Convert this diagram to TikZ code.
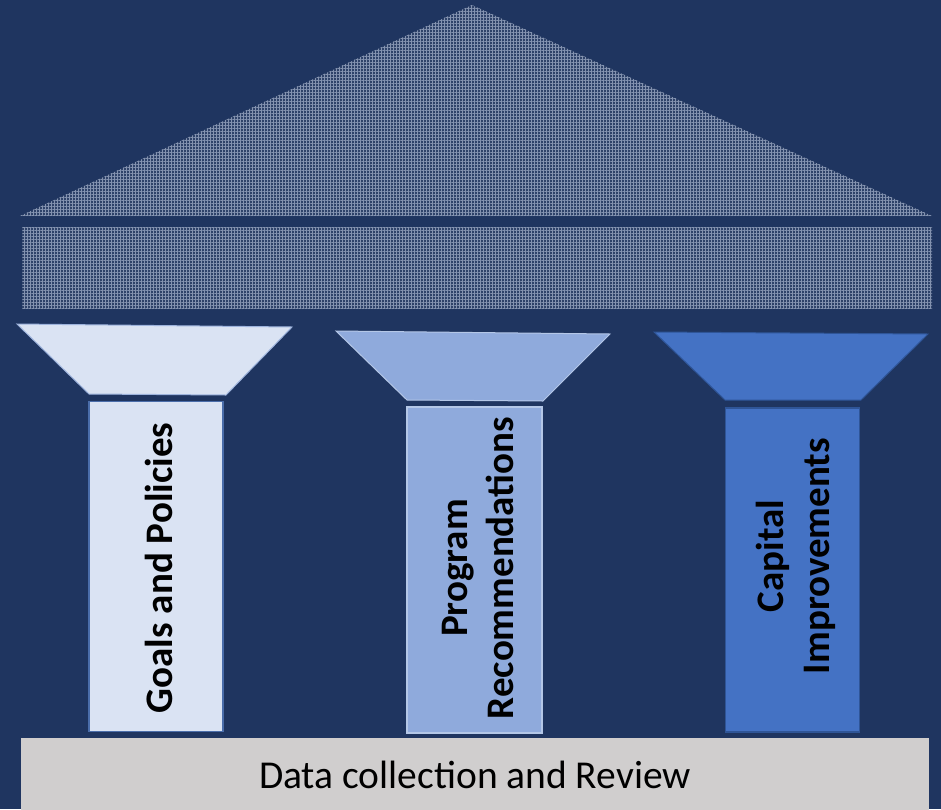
\documentclass[tikz,border=0pt]{standalone}
\usepackage{fontspec}
\setmainfont{Carlito}
\usetikzlibrary{patterns.meta}
\definecolor{bg}{HTML}{1F3560}
\definecolor{roofbase}{HTML}{2E4269}
\definecolor{roofline}{HTML}{8493B0}
\definecolor{pOne}{HTML}{DAE3F3}
\definecolor{pOneLine}{HTML}{4A6DAA}
\definecolor{cOneLine}{HTML}{9DB3DC}
\definecolor{pTwo}{HTML}{8FAADC}
\definecolor{pTwoLine}{HTML}{B4C7E7}
\definecolor{pThree}{HTML}{4472C4}
\definecolor{pThreeLine}{HTML}{2F5597}
\definecolor{baseGray}{HTML}{D0CECE}
\tikzset{
  roof/.style={fill=roofbase},
  roofgrid/.style={pattern={Lines[distance=3pt,angle=0,line width=0.7pt]},pattern color=roofline},
  roofgridv/.style={pattern={Lines[distance=3pt,angle=90,line width=0.7pt]},pattern color=roofline},
  shaft/.style={draw, line width=1.5pt, minimum width=#1, inner sep=0pt, rectangle},
  capital/.style={line width=1pt},
  label/.style={rotate=90, font=\bfseries\fontsize{39}{46}\selectfont, align=center, text=black, inner sep=0pt},
}
\begin{document}
\begin{tikzpicture}[x=1pt,y=-1pt]
\fill[bg] (0,0) rectangle (941,809);
\useasboundingbox (0,0) rectangle (941,809);
% roof
\fill[roof] (20,216) -- (472,5) -- (932,216) -- cycle;
\fill[roofgrid] (20,216) -- (472,5) -- (932,216) -- cycle;
\fill[roofgridv] (20,216) -- (472,5) -- (932,216) -- cycle;
\fill[roof] (22,227) rectangle (932,308);
\fill[roofgrid] (22,227) rectangle (932,308);
\fill[roofgridv] (22,227) rectangle (932,308);
% capitals
\filldraw[capital, fill=pOne, draw=cOneLine] (17,324) -- (292,327) -- (226,395) -- (89,394) -- cycle;
\filldraw[capital, fill=pTwo, draw=pTwoLine] (336,331) -- (610,334) -- (543,401) -- (407,400) -- cycle;
\filldraw[capital, fill=pThree, draw=pThreeLine] (654,332) -- (928,334) -- (861,400) -- (725,400) -- cycle;
% shafts
\node[shaft=134pt, minimum height=330pt, fill=pOne, draw=pOneLine] (s1) at (156,566.5) {};
\node[shaft=135pt, minimum height=326pt, fill=pTwo, draw=pTwoLine] (s2) at (474.5,570) {};
\node[shaft=134pt, minimum height=324pt, fill=pThree, draw=pThreeLine] (s3) at (792.5,570) {};
\node[label] (t1) at (159,568) {Goals and Policies};
\node[label] (t2) at (478,568) {Program\\Recommendations};
\node[label] (t3) at (796,556) {Capital\\Improvements};
% base
\fill[baseGray] (21,738) rectangle (929,815);
\node[font=\fontsize{39.5}{42}\selectfont, text=black, inner sep=0pt] (base) at (475,775) {Data collection and Review};
\end{tikzpicture}
\end{document}
